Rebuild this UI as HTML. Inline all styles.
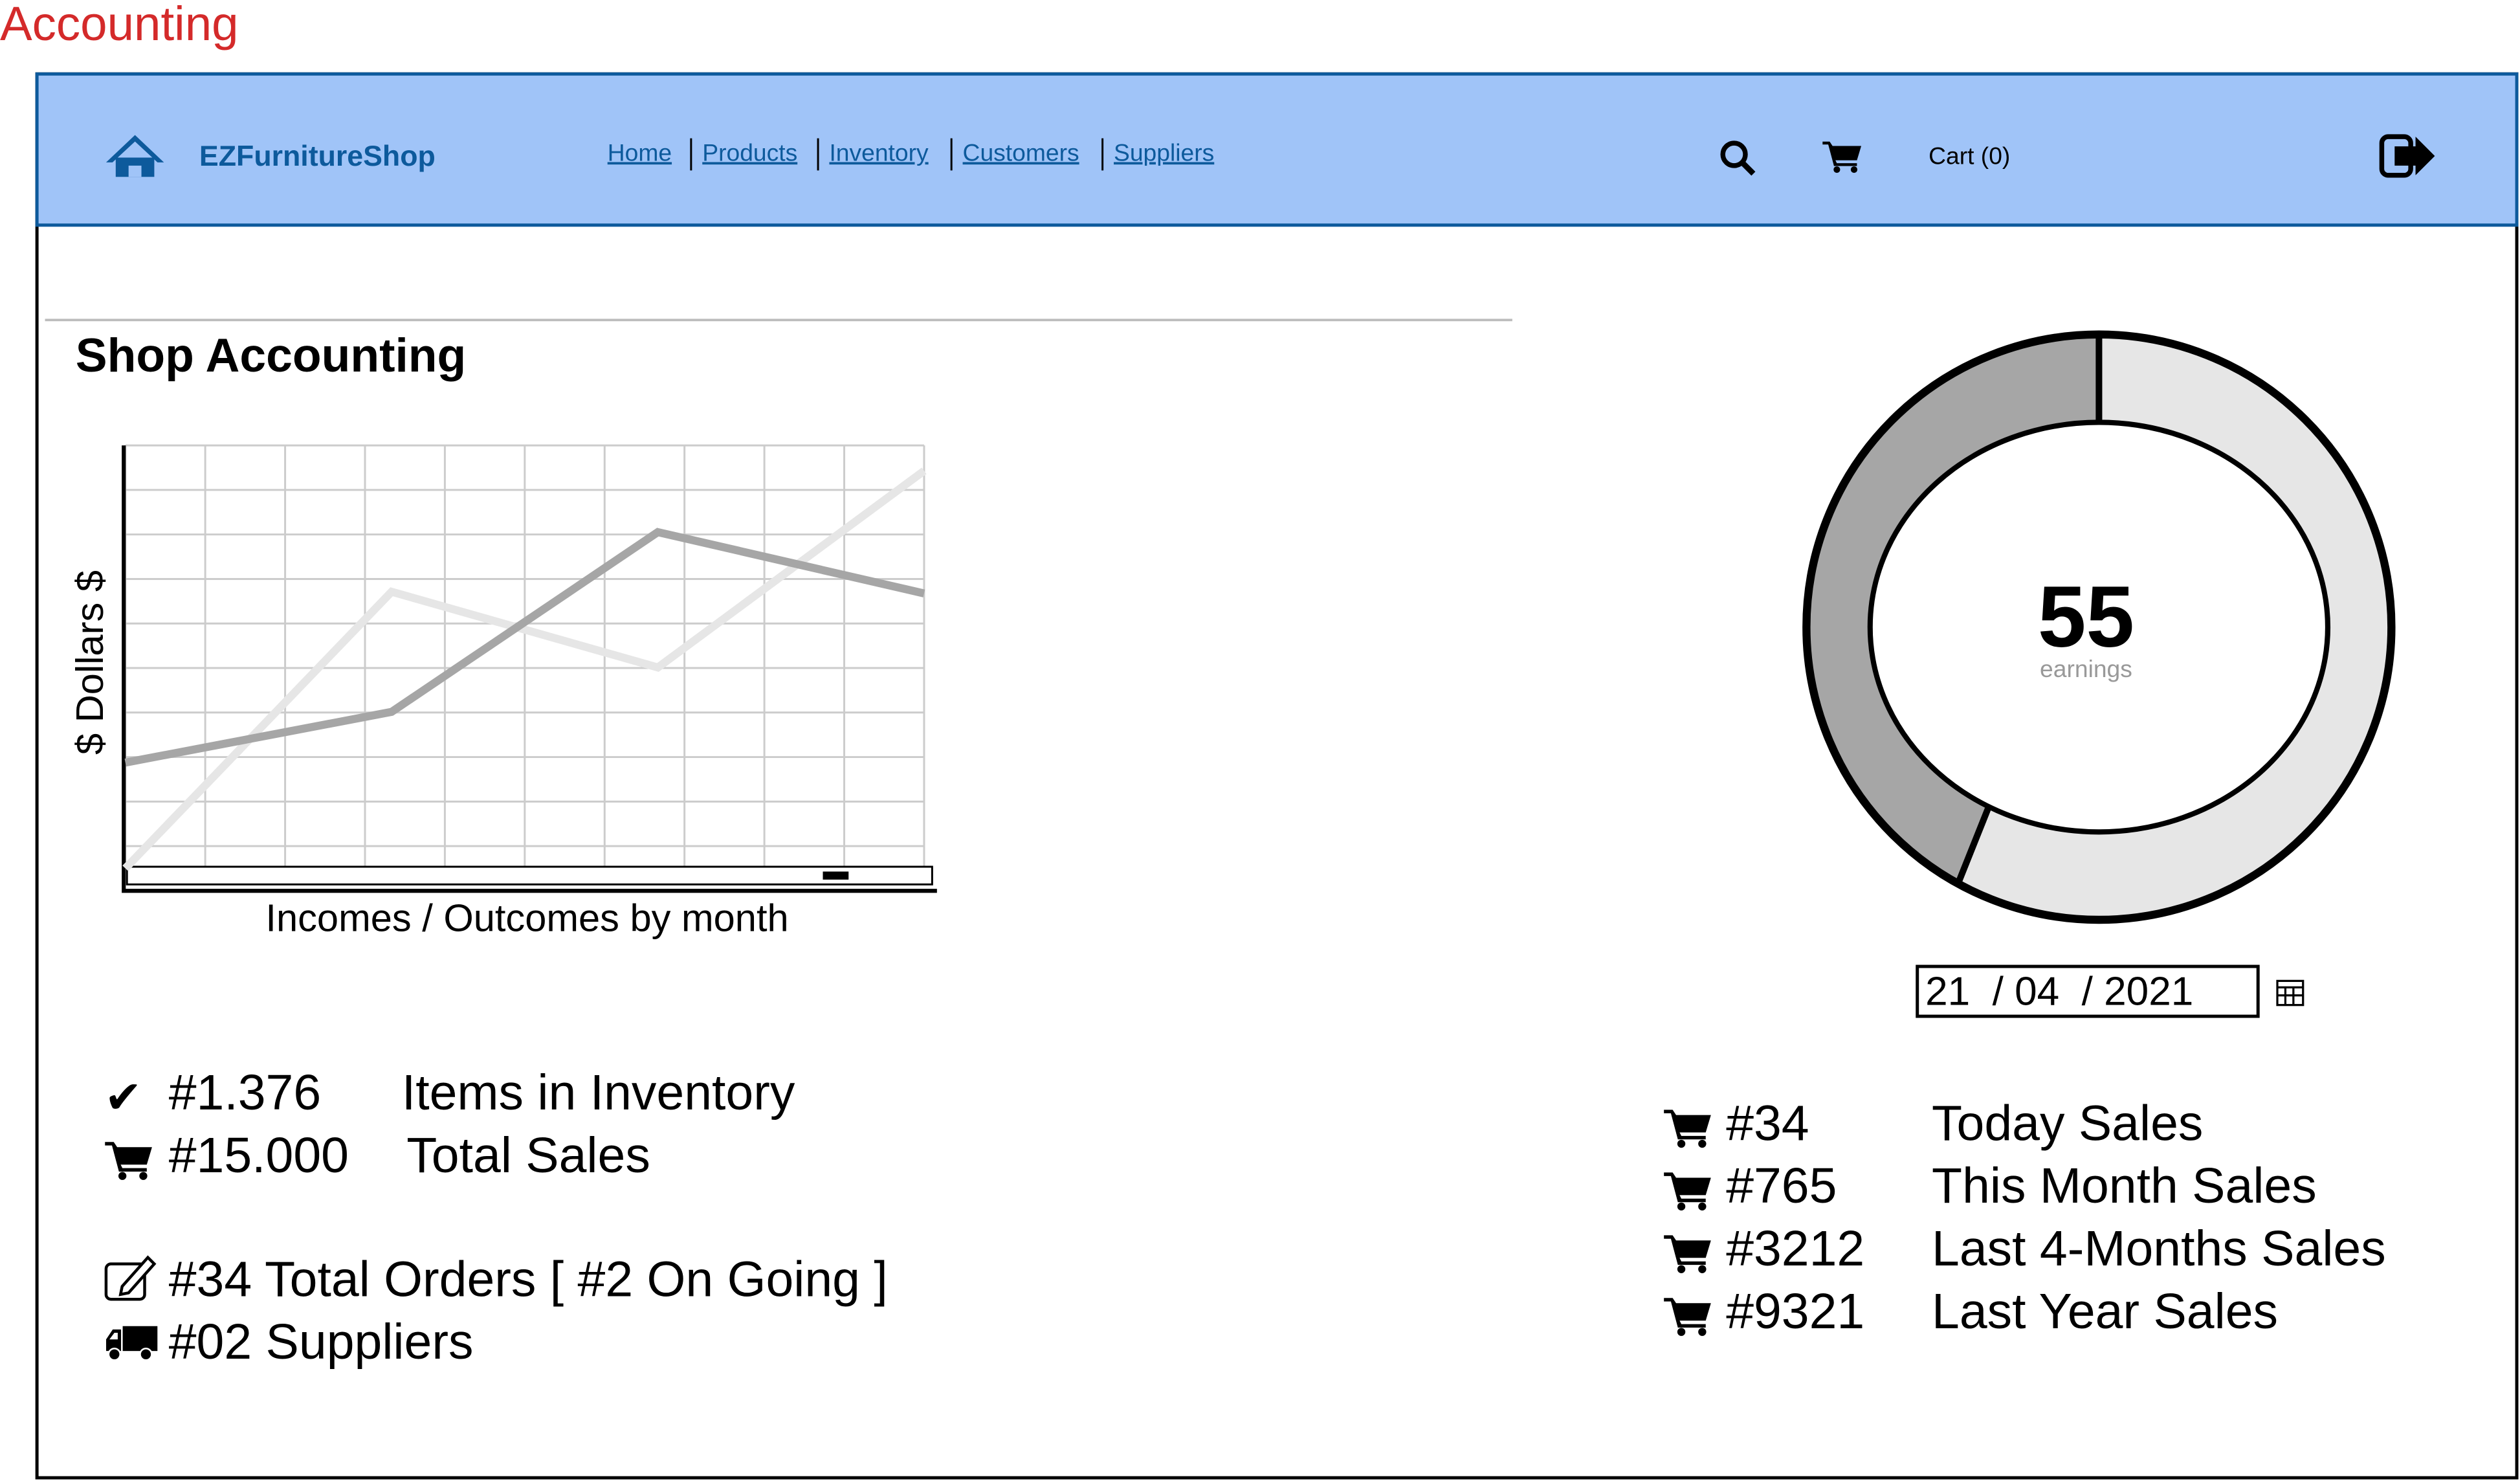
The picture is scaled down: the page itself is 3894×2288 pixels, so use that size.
<!DOCTYPE html>
<html><head><meta charset="utf-8">
<style>
html,body{margin:0;padding:0;background:#fff;}
svg{display:block;}
text{font-family:"Liberation Sans",sans-serif;}
</style></head>
<body>
<svg id="root" width="3894" height="2288" viewBox="0 0 1568 921" preserveAspectRatio="none" xmlns="http://www.w3.org/2000/svg">
<defs>
<symbol id="cart" viewBox="0 0 28 24">
<path d="M0,2 L5,2 L7,5 L27,5 L24,15 L9,15 L10,17 L24,17 L24,19 L8,19 L4,4 L0,4 Z" fill="#000"/>
<circle cx="10" cy="21.5" r="2.3" fill="#000"/><circle cx="22" cy="21.5" r="2.3" fill="#000"/>
</symbol>
<symbol id="truck" viewBox="0 0 32 24">
<rect x="11" y="2" width="21" height="15" fill="#000"/>
<path d="M1,10 L5,4 L10,4 L10,17 L1,17 Z" fill="#000"/>
<path d="M3,10 L6,6 L8,6 L8,10 Z" fill="#fff"/>
<circle cx="6" cy="19" r="3.5" fill="#000" stroke="#fff" stroke-width="1"/><circle cx="25" cy="19" r="3.5" fill="#000" stroke="#fff" stroke-width="1"/>
</symbol>
</defs>
<text x="0" y="25" font-size="30" fill="#d42a2a">Accounting</text>
<rect x="23" y="46" width="1543" height="873" fill="#fff" stroke="#000" stroke-width="2"/>
<rect x="23" y="46" width="1543" height="94" fill="#a0c4f8" stroke="#0d5a9c" stroke-width="2"/>
<g fill="#0d5a9c">
<polygon points="84,84 66,101 70,101 84,88 98,101 102,101"/>
<rect x="72" y="98" width="24" height="12"/><rect x="80" y="103" width="8" height="7" fill="#a0c4f8"/>
</g>
<text x="124" y="103" font-size="18" font-weight="bold" fill="#0d5a9c">EZFurnitureShop</text>
<g font-size="15" fill="#0d5a9c">
<text x="378" y="100" text-decoration="underline">Home</text>
<text x="437" y="100" text-decoration="underline">Products</text>
<text x="516" y="100" text-decoration="underline">Inventory</text>
<text x="599" y="100" text-decoration="underline">Customers</text>
<text x="693" y="100" text-decoration="underline">Suppliers</text>
</g>
<g stroke="#000" stroke-width="1.2">
<line x1="430" y1="86" x2="430" y2="106"/><line x1="509" y1="86" x2="509" y2="106"/><line x1="592" y1="86" x2="592" y2="106"/><line x1="686" y1="86" x2="686" y2="106"/>
</g>
<g><circle cx="1079" cy="96" r="7" fill="none" stroke="#000" stroke-width="3"/><line x1="1084" y1="101" x2="1091" y2="108" stroke="#000" stroke-width="3.5"/></g>
<use href="#cart" x="1134" y="86" width="25" height="22"/>
<text x="1200" y="102" font-size="15">Cart (0)</text>
<g><rect x="1482" y="85" width="18" height="24" rx="4" fill="none" stroke="#000" stroke-width="3"/><polygon points="1490,91 1503,91 1503,85 1515,97 1503,109 1503,103 1490,103" fill="#000"/></g>
<line x1="28" y1="199" x2="941" y2="199" stroke="#bbb" stroke-width="1.5"/>
<text x="47" y="231" font-size="29.5" font-weight="bold">Shop Accounting</text>
<g id="chart"></g>
<text transform="translate(64,412) rotate(-90)" text-anchor="middle" font-size="24">$ Dollars $</text>
<text x="328" y="579" text-anchor="middle" font-size="24">Incomes / Outcomes by month</text>
<g id="donut"></g>
<text x="1298" y="402" text-anchor="middle" font-size="54" font-weight="bold">55</text>
<text x="1298" y="421" text-anchor="middle" font-size="15" fill="#999">earnings</text>
<rect x="1193" y="601" width="212" height="31" fill="#fff" stroke="#000" stroke-width="2"/>
<text x="1198" y="625" font-size="25" xml:space="preserve">21  / 04  / 2021</text>
<g fill="none" stroke="#000" stroke-width="1.3"><rect x="1417" y="610" width="16" height="15"/><line x1="1417" y1="614" x2="1433" y2="614"/><line x1="1417" y1="619" x2="1433" y2="619"/><line x1="1422" y1="614" x2="1422" y2="625"/><line x1="1427" y1="614" x2="1427" y2="625"/></g>
<g font-size="31">
<text x="65" y="692" font-size="28">✔</text>
<text x="105" y="690">#1.376</text>
<text x="250" y="690">Items in Inventory</text>
<use href="#cart" x="65" y="708" width="31" height="26"/>
<text x="105" y="729">#15.000</text>
<text x="253" y="729">Total Sales</text>
<g fill="none" stroke="#000" stroke-width="1.8"><rect x="66" y="786" width="24" height="22" rx="3"/><path d="M76,800 L92,782 L96,786 L80,804 L75,805 Z" fill="#fff"/></g>
<text x="105" y="806">#34 Total Orders [ #2 On Going ]</text>
<use href="#truck" x="65" y="822" width="33" height="26"/>
<text x="105" y="845">#02 Suppliers</text>
<use href="#cart" x="1035" y="688" width="31" height="26"/>
<text x="1074" y="709">#34</text>
<text x="1202" y="709">Today Sales</text>
<use href="#cart" x="1035" y="727" width="31" height="26"/>
<text x="1074" y="748">#765</text>
<text x="1202" y="748">This Month Sales</text>
<use href="#cart" x="1035" y="766" width="31" height="26"/>
<text x="1074" y="787">#3212</text>
<text x="1202" y="787">Last 4-Months Sales</text>
<use href="#cart" x="1035" y="805" width="31" height="26"/>
<text x="1074" y="826">#9321</text>
<text x="1202" y="826">Last Year Sales</text>
</g>
</svg>
<script>
const months = [0, 1, 2, 3];
const outcomes = [25, 37, 79.5, 65];
const incomes = [0, 65.4, 47.5, 94];
const donutValues = [58, 42];
const NS = "http://www.w3.org/2000/svg";
function mk(tag, attrs, parent){const e=document.createElementNS(NS,tag);for(const k in attrs)e.setAttribute(k,attrs[k]);parent.appendChild(e);return e;}
const X0=78,X1=575,Y0=540,Y1=277;
function xs(i){return X0+(X1-X0)*i/(months.length-1);}
function ys(v){return Y0-(Y0-Y1)*v/100;}
const chart=document.getElementById('chart');
for(let i=0;i<=10;i++){const x=X0+(X1-X0)*i/10;const l=mk('line',{x1:x,y1:Y1,x2:x,y2:Y0,stroke:'#ccc','stroke-width':1.2},chart);

}
for(let i=0;i<10;i++){const y=Y1+(Y0-Y1)*i/9.5;const l=mk('line',{x1:X0,y1:y,x2:X1,y2:y,stroke:'#ccc','stroke-width':1.2},chart);

}
const ax=mk('path',{d:'M77,277 L77,554 L583,554',fill:'none',stroke:'#000','stroke-width':2.5},chart);


const sb=mk('rect',{x:79,y:539,width:501,height:11,fill:'#fff',stroke:'#000','stroke-width':1.2},chart);


const th=mk('rect',{x:512,y:542,width:16,height:5,fill:'#000'},chart);


const l1=mk('polyline',{points:incomes.map((v,i)=>xs(i)+','+ys(v)).join(' '),fill:'none',stroke:'#e6e6e6','stroke-width':5},chart);


const l2=mk('polyline',{points:outcomes.map((v,i)=>xs(i)+','+ys(v)).join(' '),fill:'none',stroke:'#a6a6a6','stroke-width':5},chart);


const donut=document.getElementById('donut');
const cx=1306,cy=390,R=182,rx=142,ry=127;
const total=donutValues.reduce((a,b)=>a+b,0);
const cols=['#e6e6e6','#a6a6a6'];
let a0=0;
donutValues.forEach((v,k)=>{const a1=a0+v/total*2*Math.PI;
const p=(r1,r2,a)=>[cx+r1*Math.sin(a),cy-r2*Math.cos(a)];
const [ox0,oy0]=p(R,R,a0),[ox1,oy1]=p(R,R,a1),[ix1,iy1]=p(rx,ry,a1),[ix0,iy0]=p(rx,ry,a0);
const lg=(a1-a0)>Math.PI?1:0;
const s=mk('path',{d:`M${ox0},${oy0} A${R},${R} 0 ${lg} 1 ${ox1},${oy1} L${ix1},${iy1} A${rx},${ry} 0 ${lg} 0 ${ix0},${iy0} Z`,fill:cols[k],stroke:'#000','stroke-width':4},donut);


a0=a1;});
const oc=mk('circle',{cx:cx,cy:cy,r:R,fill:'none',stroke:'#000','stroke-width':5},donut);


const ic=mk('ellipse',{cx:cx,cy:cy,rx:rx,ry:ry,fill:'#fff',stroke:'#000','stroke-width':2.5},donut);


</script>
</body></html>
